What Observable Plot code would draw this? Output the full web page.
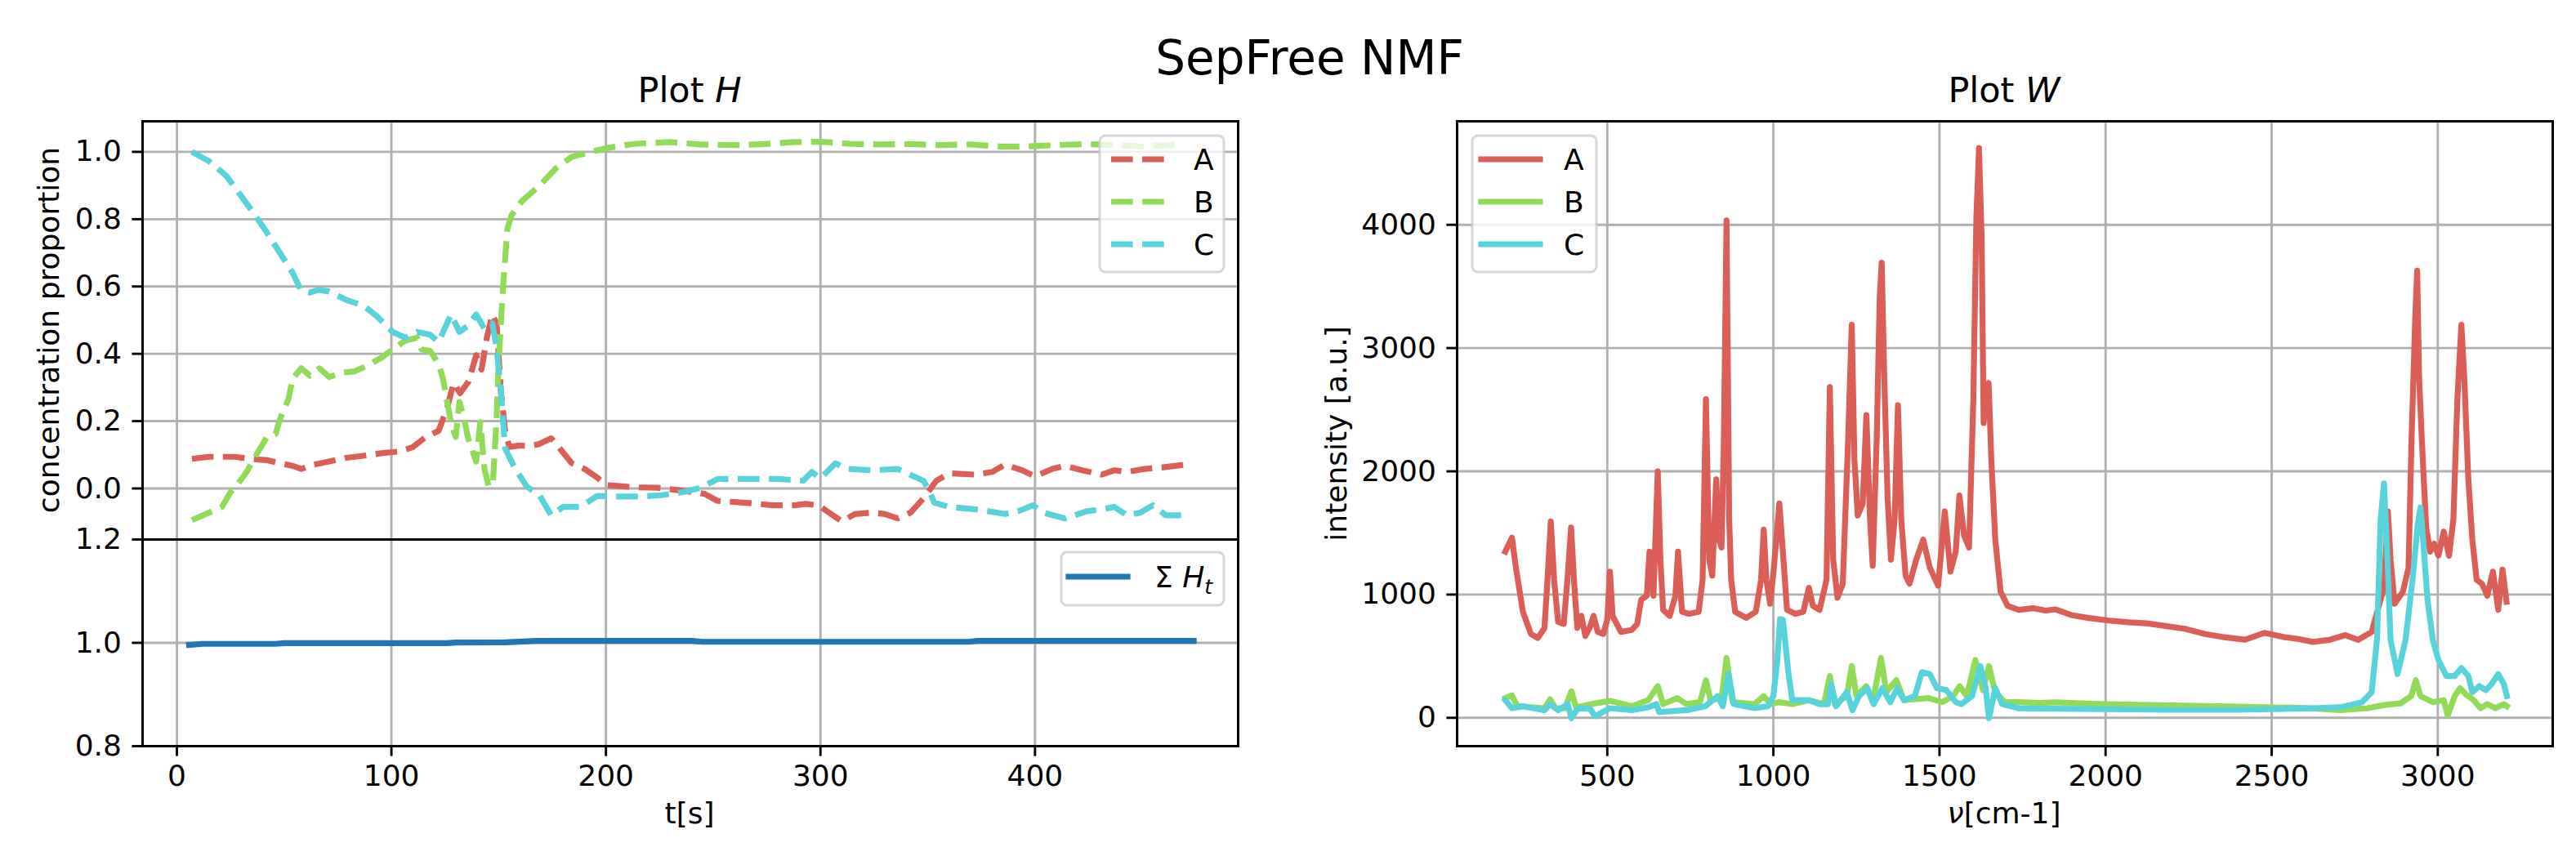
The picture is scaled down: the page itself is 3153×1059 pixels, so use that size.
<!DOCTYPE html>
<html><head><meta charset="utf-8">
<script src="https://cdn.jsdelivr.net/npm/d3@7"></script>
<script src="https://cdn.jsdelivr.net/npm/@observablehq/plot@0.6"></script>
<style>
body{margin:0;background:#fff;}
#fig{position:relative;width:3153px;height:1059px;background:#fff;overflow:hidden;font-family:"DejaVu Sans";}
#fig > svg{position:absolute;}
</style></head><body><div id="fig"></div>
<script>
// ---------- Plot H : concentration proportions ----------
const tA = [7,15,27,34,42,48,54,58,64,71,79,87,97,104,110,116,122,126,129,132,136,139.5,142,144.5,147,149,151,153,155,159,165,169,174.5,178,184,190,196,200,204,215,224,236,246,252,264,278,288,293,299,304,310,316,324,330,336,342,348,354,360,372,380,386,394,400,408,414,422,431,437,443,451,459,470];
const hA = [0.088,0.094,0.094,0.088,0.084,0.075,0.067,0.058,0.071,0.08,0.091,0.097,0.106,0.11,0.123,0.153,0.171,0.24,0.314,0.283,0.318,0.396,0.353,0.448,0.517,0.491,0.292,0.171,0.123,0.127,0.127,0.132,0.149,0.123,0.075,0.058,0.032,0.01,0.008,0.003,0.002,-0.007,-0.016,-0.037,-0.042,-0.05,-0.05,-0.046,-0.05,-0.072,-0.098,-0.076,-0.072,-0.076,-0.089,-0.072,-0.029,0.023,0.045,0.041,0.049,0.071,0.054,0.036,0.058,0.067,0.054,0.041,0.054,0.049,0.058,0.062,0.071];
const tB = [7,15,21,25,28.6,32.5,36.4,42,46,48,52,54,58,62,66.5,71,77,83,89,95,100.6,106.4,112,114,118,122,124,126,128,130,131.7,134,135.6,139.5,141.4,143.4,145.3,147.3,149,150,152,154,156,161,169,176.5,184,192,200,209,214,230,244,260,274,288,300,314,328,342,356,370,384,396,410,423,437,451,469];
const hB = [-0.094,-0.072,-0.055,-0.011,0.015,0.049,0.093,0.153,0.162,0.205,0.266,0.327,0.357,0.335,0.357,0.331,0.344,0.348,0.366,0.387,0.413,0.439,0.448,0.413,0.409,0.37,0.327,0.257,0.188,0.153,0.257,0.205,0.153,0.08,0.197,0.058,0.006,0.015,0.205,0.379,0.595,0.769,0.812,0.855,0.899,0.95,0.985,0.998,1.011,1.02,1.024,1.029,1.022,1.02,1.023,1.029,1.03,1.024,1.022,1.023,1.02,1.022,1.016,1.016,1.02,1.023,1.02,1.016,1.022];
const tC = [7,15,23,30.5,36.4,42,48,54,58,62,66,71,79,87,93,100.6,106.4,112,118,122,127.8,131.7,135.6,139.5,143.4,147,149,151,153,157,163,169,174.5,180,188,196,204,216,226,236,244,252,264,280,292,296,300,307,312,324,336,342,348,351,353,360,374,386,392,399,404,414,424,430,437,443,449,455,461,470];
const hC = [1.0,0.972,0.929,0.864,0.812,0.76,0.70,0.64,0.587,0.582,0.59,0.585,0.56,0.543,0.513,0.465,0.448,0.465,0.457,0.435,0.517,0.465,0.483,0.517,0.474,0.49,0.42,0.292,0.119,0.067,0.006,-0.02,-0.08,-0.055,-0.055,-0.022,-0.024,-0.024,-0.02,-0.011,0.002,0.028,0.028,0.028,0.023,0.049,0.03,0.075,0.058,0.054,0.058,0.04,0.023,-0.011,-0.042,-0.055,-0.063,-0.076,-0.068,-0.05,-0.072,-0.089,-0.068,-0.063,-0.055,-0.08,-0.072,-0.05,-0.08,-0.08];
const tSum = [5.7,12,46,50,126,130,153,168,240,245,369,373,474];
const hSum = [0.9958,0.998,0.998,0.9995,0.9995,1.0005,1.001,1.0037,1.0037,1.002,1.002,1.0037,1.0037];
const tTicks = [0,100,200,300,400];
const hTicks = [0.0,0.2,0.4,0.6,0.8,1.0];
const sumTicks = [0.8,1.0,1.2];

// ---------- Plot W : spectra ----------
const nuA = [193,213,225,246,270,291,311,320,330,340,352,369,381,391,402,410,422,434,447,459,471,488,500,508,516,541,574,590,602,619,627,639,652,660,668,688,705,713,725,746,775,787,797,807,816,828,836,844,851,859,867,873,885,918,947,963,971,979,990,1000,1018,1026,1041,1066,1090,1107,1119,1139,1160,1170,1180,1193,1209,1225,1236,1244,1254,1269,1280,1291,1299,1311,1320,1326,1334,1344,1354,1365,1375,1385,1398,1410,1430,1451,1471,1496,1516,1533,1549,1560,1574,1589,1602,1611,1619,1627,1633,1641,1648,1656,1668,1684,1705,1738,1782,1820,1850,1896,1950,2010,2070,2124,2180,2238,2300,2352,2420,2478,2535,2580,2624,2673,2722,2760,2801,2821,2838,2850,2858,2870,2895,2912,2921,2932,2938,2944,2952,2965,2977,2989,3002,3018,3034,3047,3059,3071,3080,3092,3104,3117,3133,3149,3166,3182,3195,3207];
const wA = [1348,1462,1218,860,681,648,730,1120,1593,1120,778,762,1153,1544,1023,730,827,664,730,827,697,681,795,1186,827,697,713,762,958,990,1348,990,2000,1283,876,827,990,1348,860,844,860,1120,2586,1283,1153,1935,1446,1381,2260,4035,1609,1120,860,811,860,1120,1527,1120,925,1170,1739,1446,876,844,860,1055,909,876,1120,2684,1283,974,1088,2260,3189,2097,1641,1739,2456,1609,1234,2260,3400,3693,2749,1772,1283,1609,2537,1609,1153,1088,1283,1446,1218,1072,1674,1186,1348,1804,1479,1381,2586,4052,4622,3889,2391,2651,2716,2097,1446,1023,909,876,889,870,880,834,810,789,775,767,745,723,680,656,634,689,656,640,616,632,671,632,697,892,1055,1674,1283,925,1023,1218,2260,3237,3628,2749,2260,1544,1348,1413,1316,1511,1316,1609,2586,3189,2749,1935,1446,1120,1088,990,1186,876,1202,941];
const nuB = [193,213,229,311,328,344,373,392,406,463,508,574,623,652,668,711,738,779,797,811,844,859,877,943,971,992,1016,1057,1107,1152,1170,1185,1221,1236,1250,1280,1299,1324,1340,1370,1393,1467,1508,1541,1561,1582,1608,1631,1649,1668,1697,1738,1800,1850,2000,2200,2400,2600,2706,2789,2838,2887,2920,2934,2948,2985,3018,3030,3051,3067,3084,3108,3129,3149,3174,3199,3208];
const wB = [160,182,94,78,150,78,78,215,85,117,137,94,143,257,111,160,111,127,306,143,160,485,127,111,176,111,127,111,143,111,339,111,176,420,176,257,127,485,208,306,143,160,127,176,257,176,469,225,420,208,127,127,120,125,110,100,90,80,62,78,104,117,176,306,176,127,143,20,176,241,192,143,78,111,78,111,94];
const nuC = [193,213,246,311,328,352,381,392,410,447,463,508,574,623,648,656,738,795,832,848,865,881,943,984,1000,1012,1020,1029,1045,1057,1107,1139,1164,1174,1189,1221,1238,1258,1283,1302,1328,1352,1373,1393,1426,1447,1471,1492,1521,1549,1566,1598,1623,1639,1649,1668,1689,1738,1800,2000,2200,2400,2624,2706,2772,2801,2817,2828,2838,2846,2858,2879,2903,2924,2940,2948,2956,2969,2985,3002,3026,3051,3071,3092,3104,3125,3145,3162,3182,3199,3208];
const wC = [143,78,94,62,111,62,111,-3,72,78,13,78,62,85,111,46,62,94,176,94,355,111,78,94,176,469,800,795,371,143,143,111,111,274,94,208,62,176,241,111,241,127,241,143,176,371,355,241,225,127,111,176,420,241,-3,241,111,78,75,70,65,65,78,85,127,208,632,1609,1902,1446,632,355,632,1120,1576,1707,1446,958,632,469,339,339,404,339,208,257,225,274,355,274,176];
const nuTicks = [500,1000,1500,2000,2500,3000];
const wTicks = [0,1000,2000,3000,4000];

const colA = "#db5f57", colB = "#91db57", colC = "#57d3db", colSum = "#1f77b4";
const gridCol = "#b0b0b0";
const LW = 7.2, DASH = "26.6,11.5", GW = 2.9;

const pairs = (xs, ys) => xs.map((x, i) => [x, ys[i]]);
const baseStyle = {background: "transparent", fontSize: "36px", fontFamily: "DejaVu Sans", color: "black", overflow: "visible"};
const fig = document.getElementById("fig");
function place(svg, left, top, w, h) {
  svg.style.left = left + "px"; svg.style.top = top + "px";
  svg.style.width = w + "px"; svg.style.height = h + "px"; svg.style.maxWidth = "none";
  fig.appendChild(svg);
}

// Top-left: H
const dashed = (xs, ys, c) => Plot.line(pairs(xs, ys), {stroke: c, strokeWidth: LW, strokeDasharray: DASH, strokeLinecap: "butt", strokeLinejoin: "round", clip: true});
const p1 = Plot.plot({
  width: 1560, height: 570, marginLeft: 174, marginRight: 45, marginTop: 48, marginBottom: 10,
  x: {domain: [-16, 494.7], axis: null},
  y: {domain: [-0.1517, 1.0908], axis: null},
  style: baseStyle,
  marks: [
    Plot.gridX(tTicks, {stroke: gridCol, strokeOpacity: 1, strokeWidth: GW}),
    Plot.gridY(hTicks, {stroke: gridCol, strokeOpacity: 1, strokeWidth: GW}),
    dashed(tA, hA, colA), dashed(tB, hB, colB), dashed(tC, hC, colC),
    Plot.axisY(hTicks, {tickFormat: d3.format(".1f"), tickSize: 12.6, tickPadding: 13, strokeWidth: GW, label: null}),
    Plot.frame({stroke: "black", strokeWidth: 3})
  ]
});
place(p1, 0, 100, 1560, 570);

// Bottom-left: sum of H
const p2 = Plot.plot({
  width: 1560, height: 439, marginLeft: 174, marginRight: 45, marginTop: 40, marginBottom: 146,
  x: {domain: [-16, 494.7], axis: null},
  y: {domain: [0.8, 1.2], axis: null},
  style: baseStyle,
  marks: [
    Plot.gridX(tTicks, {stroke: gridCol, strokeOpacity: 1, strokeWidth: GW}),
    Plot.gridY(sumTicks, {stroke: gridCol, strokeOpacity: 1, strokeWidth: GW}),
    Plot.line(pairs(tSum, hSum), {stroke: colSum, strokeWidth: LW, strokeLinecap: "square", strokeLinejoin: "round", clip: true}),
    Plot.axisY(sumTicks, {tickFormat: d3.format(".1f"), tickSize: 12.6, tickPadding: 13, strokeWidth: GW, label: null}),
    Plot.axisX(tTicks, {tickFormat: d3.format("d"), tickSize: 12.6, tickPadding: 10, strokeWidth: GW, label: null}),
    Plot.frame({stroke: "black", strokeWidth: 3})
  ]
});
place(p2, 0, 620, 1560, 439);

// Right: W
const solid = (xs, ys, c) => Plot.line(pairs(xs, ys), {stroke: c, strokeWidth: LW, strokeLinecap: "square", strokeLinejoin: "round", clip: true});
const p3 = Plot.plot({
  width: 1553, height: 959, marginLeft: 183, marginRight: 29, marginTop: 48, marginBottom: 146,
  x: {domain: [48, 3346], axis: null},
  y: {domain: [-230, 4840], axis: null},
  style: baseStyle,
  marks: [
    Plot.gridX(nuTicks, {stroke: gridCol, strokeOpacity: 1, strokeWidth: GW}),
    Plot.gridY(wTicks, {stroke: gridCol, strokeOpacity: 1, strokeWidth: GW}),
    solid(nuA, wA, colA), solid(nuB, wB, colB), solid(nuC, wC, colC),
    Plot.axisY(wTicks, {tickFormat: d3.format("d"), tickSize: 12.6, tickPadding: 13, strokeWidth: GW, label: null}),
    Plot.axisX(nuTicks, {tickFormat: d3.format("d"), tickSize: 12.6, tickPadding: 10, strokeWidth: GW, label: null}),
    Plot.frame({stroke: "black", strokeWidth: 3})
  ]
});
place(p3, 1600, 100, 1553, 959);

// Overlay: titles, axis labels, legends
const legendRows = ["A", "B", "C"];
const legCols = [colA, colB, colC];
const ns = "http://www.w3.org/2000/svg";
const ov = document.createElementNS(ns, "svg");
ov.setAttribute("width", 3153); ov.setAttribute("height", 1059);
ov.style.left = "0px"; ov.style.top = "0px"; ov.style.pointerEvents = "none";
let s = `<g font-family="DejaVu Sans" fill="black">
<text x="1603" y="91" font-size="58" text-anchor="middle">SepFree NMF</text>
<text x="844" y="125" font-size="43" text-anchor="middle">Plot <tspan font-style="italic">H</tspan></text>
<text x="2453" y="125" font-size="43" text-anchor="middle">Plot <tspan font-style="italic">W</tspan></text>
<text x="844" y="1008" font-size="36" text-anchor="middle">t[s]</text>
<text x="2453" y="1008" font-size="36" text-anchor="middle"><tspan font-style="italic">ν</tspan>[cm-1]</text>
<text transform="translate(72,404) rotate(-90)" font-size="36" text-anchor="middle">concentration proportion</text>
<text transform="translate(1648,531) rotate(-90)" font-size="36" text-anchor="middle">intensity [a.u.]</text>
</g>`;
const box = (x, y, w, h) => `<rect x="${x}" y="${y}" width="${w}" height="${h}" rx="7" fill="white" fill-opacity="0.8" stroke="rgb(204,204,204)" stroke-opacity="0.8" stroke-width="2.9"/>`;
// legend H
s += box(1346, 166, 152, 167);
legendRows.forEach((k, i) => {
  const y = 195 + i * 52;
  s += `<line x1="1360" x2="1432" y1="${y}" y2="${y}" stroke="${legCols[i]}" stroke-width="${LW}" stroke-dasharray="${DASH}" stroke-linecap="butt"/>`;
  s += `<text x="1461" y="${y + 13}" font-family="DejaVu Sans" font-size="36">${k}</text>`;
});
// legend sum
s += box(1299, 676, 199, 65);
s += `<line x1="1308" x2="1380" y1="706" y2="706" stroke="${colSum}" stroke-width="${LW}" stroke-linecap="square"/>`;
s += `<text x="1413" y="719" font-family="DejaVu Sans" font-size="36">Σ <tspan font-style="italic">H</tspan><tspan font-style="italic" font-size="25" dy="8">t</tspan></text>`;
// legend W
s += box(1802, 166, 152, 167);
legendRows.forEach((k, i) => {
  const y = 195 + i * 52;
  s += `<line x1="1813" x2="1885" y1="${y}" y2="${y}" stroke="${legCols[i]}" stroke-width="${LW}" stroke-linecap="square"/>`;
  s += `<text x="1914" y="${y + 13}" font-family="DejaVu Sans" font-size="36">${k}</text>`;
});
ov.innerHTML = s;
fig.appendChild(ov);
</script>
</body></html>
